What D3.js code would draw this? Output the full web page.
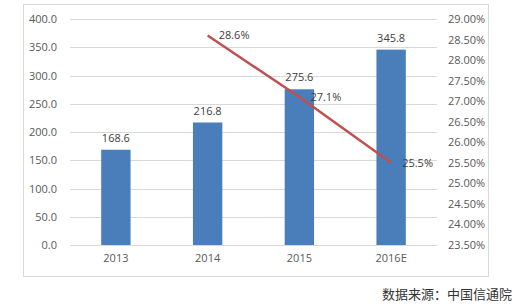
<!DOCTYPE html>
<html>
<head>
<meta charset="utf-8">
<script src="https://cdn.jsdelivr.net/npm/d3@7"></script>
<style>
  body { margin: 0; background: #fff; }
  text { font-family: "Open Sans", "Noto Sans", sans-serif; }
</style>
</head>
<body>
<svg id="chart" width="526" height="307"></svg>
<script>
// data
var years = ["2013", "2014", "2015", "2016E"];
var sizes = [168.6, 216.8, 275.6, 345.8];
var growthYears = ["2014", "2015", "2016E"];
var growth = [28.6, 27.1, 25.5];
var leftTicks = [0, 50, 100, 150, 200, 250, 300, 350, 400];
var rightTicks = [23.5, 24, 24.5, 25, 25.5, 26, 26.5, 27, 27.5, 28, 28.5, 29];

var svg = d3.select("#chart");
// plot area (window.top is reserved, so no "top" here)
var plotLeft = 70, plotRight = 437, plotTop = 19, plotBottom = 245;

// outer frame
svg.append("rect")
    .attr("x", 23.5).attr("y", 4.5)
    .attr("width", 465).attr("height", 272)
    .attr("fill", "none").attr("stroke", "#d9d9d9");

var x = d3.scaleBand().domain(years).range([plotLeft, plotRight]).paddingInner(0.68).paddingOuter(0.34);
var y = d3.scaleLinear().domain([0, 400]).range([plotBottom, plotTop]);
var y2 = d3.scaleLinear().domain([23.5, 29]).range([plotBottom, plotTop]);

// grid
svg.append("g").selectAll("line")
    .data(leftTicks).enter().append("line")
    .attr("x1", plotLeft).attr("x2", plotRight)
    .attr("y1", d => Math.round(y(d)) + 0.5).attr("y2", d => Math.round(y(d)) + 0.5)
    .attr("stroke", "#d9d9d9");

// left axis
var leftAxis = svg.append("g")
    .attr("transform", "translate(" + (plotLeft - 13) + ",0)")
    .call(d3.axisLeft(y).tickValues(leftTicks).tickFormat(d3.format(".1f")).tickSize(0).tickPadding(0));
leftAxis.select(".domain").remove();
leftAxis.selectAll("text").attr("fill", "#595959").style("font-size", "11px");

// right axis
var rightAxis = svg.append("g")
    .attr("transform", "translate(448,0)")
    .call(d3.axisRight(y2).tickValues(rightTicks).tickFormat(d => d.toFixed(2) + "%").tickSize(0).tickPadding(0));
rightAxis.select(".domain").remove();
rightAxis.selectAll("text").attr("fill", "#595959").style("font-size", "11px");

// x axis
var xAxis = svg.append("g")
    .attr("transform", "translate(0," + (plotBottom + 9) + ")")
    .call(d3.axisBottom(x).tickSize(0).tickPadding(0));
xAxis.select(".domain").remove();
xAxis.selectAll("text").attr("fill", "#595959").style("font-size", "11px");

// bars
svg.append("g").selectAll("rect")
    .data(sizes).enter().append("rect")
    .attr("x", (d, i) => x(years[i]))
    .attr("y", d => y(d))
    .attr("width", x.bandwidth())
    .attr("height", d => plotBottom - y(d))
    .attr("fill", "#4a7ebb");

svg.append("g").selectAll("text")
    .data(sizes).enter().append("text")
    .attr("x", (d, i) => x(years[i]) + x.bandwidth() / 2)
    .attr("y", d => y(d) - 8)
    .attr("text-anchor", "middle")
    .attr("fill", "#404040")
    .style("font-size", "11px")
    .text(d => d.toFixed(1));

// growth line
var cx = d => x(d) + x.bandwidth() / 2;
var line = d3.line()
    .x((d, i) => cx(growthYears[i]))
    .y(d => y2(d));
svg.append("path")
    .datum(growth)
    .attr("d", line)
    .attr("fill", "none")
    .attr("stroke", "#c0504d")
    .attr("stroke-width", 2.5);

svg.append("g").selectAll("text")
    .data(growth).enter().append("text")
    .attr("x", (d, i) => cx(growthYears[i]) + 11)
    .attr("y", d => y2(d) + 4)
    .attr("fill", "#404040")
    .style("font-size", "11px")
    .text(d => d.toFixed(1) + "%");

// source note
svg.append("text")
    .attr("x", 512).attr("y", 299)
    .attr("text-anchor", "end")
    .attr("fill", "#333")
    .style("font-family", "'Noto Sans CJK SC', sans-serif")
    .style("font-size", "13px")
    .text("数据来源：中国信通院");
</script>
</body>
</html>
